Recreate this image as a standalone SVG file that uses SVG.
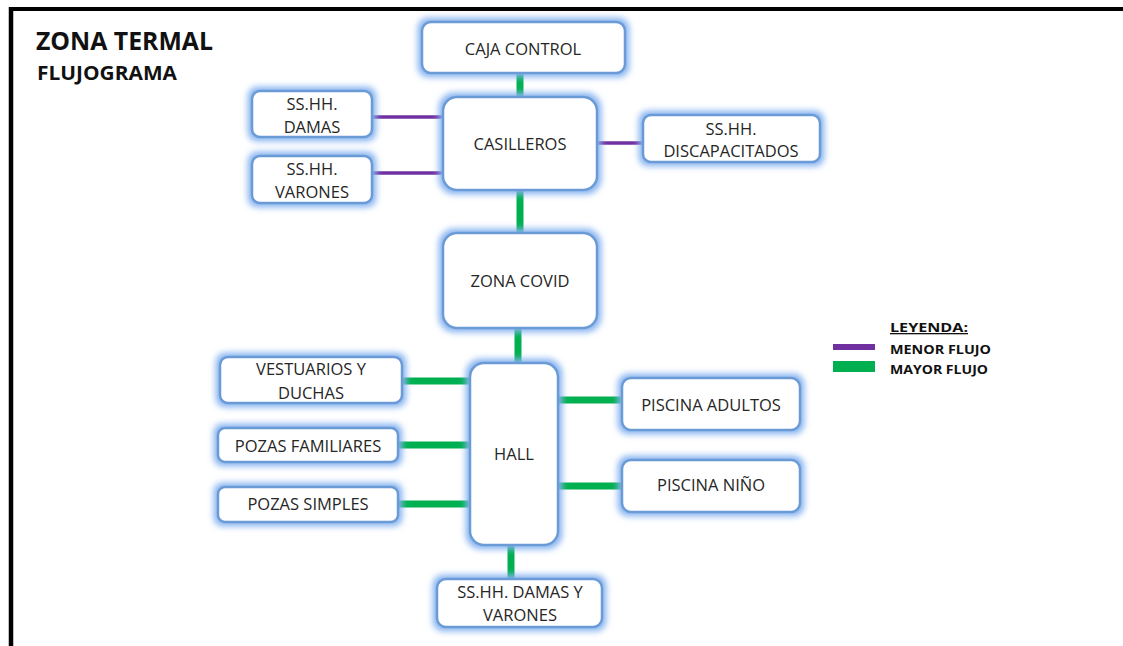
<svg xmlns="http://www.w3.org/2000/svg" width="1123" height="646" viewBox="0 0 1123 646">
<defs>
<filter id="glow" x="-30%" y="-30%" width="160%" height="160%">
<feMorphology in="SourceAlpha" operator="dilate" radius="2.5" result="d"/>
<feGaussianBlur in="d" stdDeviation="3" result="b"/>
<feFlood flood-color="#86b3f0" result="c"/>
<feComposite in="c" in2="b" operator="in" result="g"/>
<feMerge><feMergeNode in="g"/><feMergeNode in="SourceGraphic"/></feMerge>
</filter>
</defs>
<style>
.box{fill:#ffffff;stroke:#6b9bd6;stroke-width:2.5;filter:url(#glow)}
.t{font-family:"Open Sans","Liberation Sans",sans-serif;font-size:16.5px;fill:#262626;text-anchor:middle}
.g{stroke:#00b050;stroke-width:7;fill:none}
.p{stroke:#7030a0;stroke-width:3.5;fill:none}
.title{font-family:"Open Sans","Liberation Sans",sans-serif;font-weight:bold;fill:#111111}
.leg{font-family:"Open Sans","Liberation Sans",sans-serif;font-weight:bold;fill:#111111;font-size:13px}
</style>
<rect x="0" y="0" width="1123" height="646" fill="#ffffff"/>
<g id="frame">
<line x1="9" y1="9" x2="1123" y2="9" stroke="#000" stroke-width="4"/>
<line x1="11" y1="7" x2="11" y2="646" stroke="#000" stroke-width="4.5"/>
</g>
<g id="title">
<text class="title" x="36" y="50" font-size="25" textLength="177" lengthAdjust="spacingAndGlyphs">ZONA TERMAL</text>
<text class="title" x="37" y="80" font-size="19" textLength="140" lengthAdjust="spacingAndGlyphs">FLUJOGRAMA</text>
</g>
<g id="connectors">
<line class="g" x1="520" y1="72" x2="520" y2="98"/>
<line class="g" x1="520" y1="189" x2="520" y2="234"/>
<line class="g" x1="518" y1="327" x2="518" y2="364"/>
<line class="p" x1="371" y1="117" x2="444" y2="117"/>
<line class="p" x1="371" y1="173" x2="444" y2="173"/>
<line class="p" x1="596" y1="143" x2="644" y2="143"/>
<line class="g" x1="401" y1="381" x2="471" y2="381"/>
<line class="g" x1="397" y1="445" x2="471" y2="445"/>
<line class="g" x1="397" y1="504" x2="471" y2="504"/>
<line class="g" x1="557" y1="400" x2="623" y2="400"/>
<line class="g" x1="557" y1="486" x2="623" y2="486"/>
<line class="g" x1="511" y1="544" x2="511" y2="580"/>
</g>
<g id="caja-control"><rect class="box" x="422" y="22" width="203" height="51" rx="9"/><text class="t" x="523" y="55">CAJA CONTROL</text></g>
<g id="casilleros"><rect class="box" x="443" y="97" width="154" height="93" rx="14"/><text class="t" x="520" y="150">CASILLEROS</text></g>
<g id="sshh-damas"><rect class="box" x="252" y="91" width="120" height="46" rx="8"/><text class="t" x="312" y="110">SS.HH.</text><text class="t" x="312" y="133">DAMAS</text></g>
<g id="sshh-varones"><rect class="box" x="252" y="156" width="120" height="47" rx="8"/><text class="t" x="312" y="175">SS.HH.</text><text class="t" x="312" y="198">VARONES</text></g>
<g id="sshh-discapacitados"><rect class="box" x="643" y="115" width="177" height="47" rx="8"/><text class="t" x="731" y="135">SS.HH.</text><text class="t" x="731" y="157">DISCAPACITADOS</text></g>
<g id="zona-covid"><rect class="box" x="443" y="233" width="154" height="95" rx="14"/><text class="t" x="520" y="287">ZONA COVID</text></g>
<g id="hall"><rect class="box" x="470" y="363" width="88" height="182" rx="14"/><text class="t" x="514" y="460">HALL</text></g>
<g id="vestuarios"><rect class="box" x="220" y="357" width="182" height="46" rx="8"/><text class="t" x="311" y="375">VESTUARIOS Y</text><text class="t" x="311" y="399">DUCHAS</text></g>
<g id="pozas-familiares"><rect class="box" x="218" y="428" width="180" height="34" rx="7"/><text class="t" x="308" y="452">POZAS FAMILIARES</text></g>
<g id="pozas-simples"><rect class="box" x="218" y="487" width="180" height="35" rx="7"/><text class="t" x="308" y="510">POZAS SIMPLES</text></g>
<g id="piscina-adultos"><rect class="box" x="622" y="378" width="178" height="52" rx="9"/><text class="t" x="711" y="411">PISCINA ADULTOS</text></g>
<g id="piscina-nino"><rect class="box" x="622" y="460" width="178" height="52" rx="9"/><text class="t" x="711" y="491">PISCINA NIÑO</text></g>
<g id="sshh-damas-varones"><rect class="box" x="437" y="579" width="165" height="48" rx="9"/><text class="t" x="520" y="598">SS.HH. DAMAS Y</text><text class="t" x="520" y="621">VARONES</text></g>
<g id="legend">
<text class="leg" x="890" y="332" font-size="14" text-decoration="underline" textLength="78" lengthAdjust="spacingAndGlyphs">LEYENDA:</text>
<rect x="833" y="344" width="42" height="6" fill="#7030a0"/>
<text class="leg" x="890" y="354" textLength="101" lengthAdjust="spacingAndGlyphs">MENOR FLUJO</text>
<rect x="833" y="361" width="42" height="11" fill="#00b050"/>
<text class="leg" x="890" y="374" textLength="98" lengthAdjust="spacingAndGlyphs">MAYOR FLUJO</text>
</g>
</svg>
